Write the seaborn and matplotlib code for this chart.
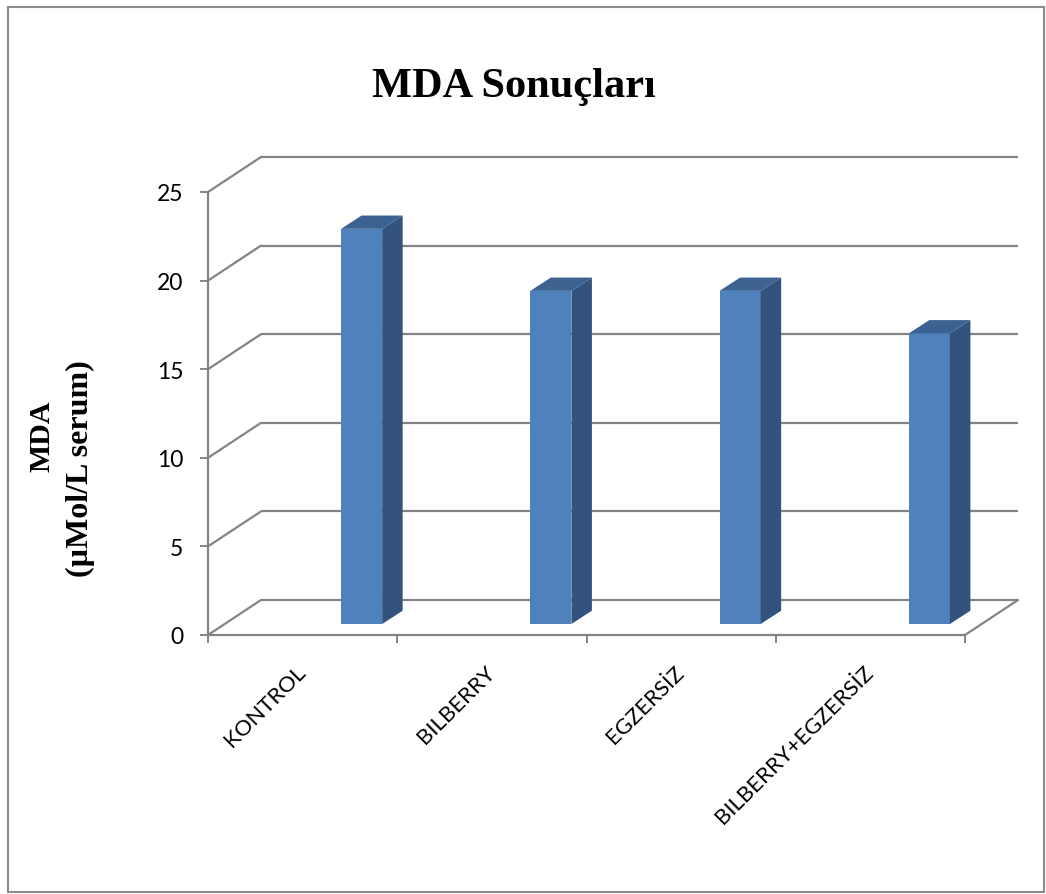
import matplotlib
matplotlib.use("Agg")
import matplotlib.pyplot as plt
from matplotlib.patches import Polygon, Rectangle
import seaborn as sns
import pandas as pd

# ---- data -------------------------------------------------------------
groups = ["KONTROL", "BILBERRY", "EGZERSİZ", "BILBERRY+EGZERSİZ"]
mda_values = [22.3, 18.8, 18.8, 16.4]
y_ticks = [0, 5, 10, 15, 20, 25]

title_text = "MDA Sonuçları"
ylabel_line1 = "MDA"
ylabel_line2 = "(µMol/L serum)"

# ---- style ------------------------------------------------------------
FRONT = "#4f81bd"
SIDE = "#33537d"
TOP = "#3c6291"
GRID = "#848484"

sns.set_theme(style="white")
plt.rcParams["font.family"] = ["Lato", "DejaVu Sans"]
plt.rcParams["text.color"] = "black"

W, H = 1046, 895
fig = plt.figure(figsize=(W / 100, H / 100), dpi=100)
fig.patch.set_facecolor("white")

# front plane of the 3-D box, in pixels
L, B, R, T = 208, 636, 965, 193
ax = fig.add_axes([L / W, 1 - B / H, (R - L) / W, (B - T) / H])
ax.set_facecolor("none")

df = pd.DataFrame({"group": groups, "mda": mda_values})
sns.barplot(data=df, x="group", y="mda", color=FRONT, saturation=1,
            width=0.217, linewidth=0, ax=ax, zorder=3)

n = len(groups)
ymax = y_ticks[-1]
ax.set_xlim(-0.5, n - 0.5)
ax.set_ylim(0, ymax)
ax.set_xlabel("")
ax.set_ylabel("")

# pixel -> data units
ux = n / (R - L)
uy = ymax / (B - T)

# oblique depth of the whole box and of each column
wall_dx, wall_dy = 53 * ux, 35 * uy
col_dx, col_dy = 59 * ux, 11 * uy      # where the column front sits
deep_dx, deep_dy = 20.5 * ux, 13.3 * uy  # column thickness

# back wall gridlines and left wall diagonals
for v in y_ticks:
    ax.plot([-0.5 + wall_dx, n - 0.5 + wall_dx], [v + wall_dy, v + wall_dy],
            color=GRID, lw=1.6, clip_on=False, zorder=1,
            solid_capstyle="butt")
    ax.plot([-0.5, -0.5 + wall_dx], [v, v + wall_dy],
            color=GRID, lw=1.6, clip_on=False, zorder=1)
# right edge of the floor
ax.plot([n - 0.5, n - 0.5 + wall_dx], [0, wall_dy],
        color=GRID, lw=1.6, clip_on=False, zorder=1)

# turn flat bars into 3-D columns
bars = list(ax.patches)
for p in bars:
    x0 = p.get_x() + col_dx
    w = p.get_width()
    h = p.get_height()
    y0 = col_dy
    p.set_x(x0)
    p.set_y(y0)
    p.set_clip_on(False)
    x1 = x0 + w
    y1 = y0 + h
    side = Polygon([(x1, y0), (x1 + deep_dx, y0 + deep_dy),
                    (x1 + deep_dx, y1 + deep_dy), (x1, y1)],
                   closed=True, facecolor=SIDE, edgecolor="none",
                   zorder=3, clip_on=False)
    top = Polygon([(x0, y1), (x1, y1), (x1 + deep_dx, y1 + deep_dy),
                   (x0 + deep_dx, y1 + deep_dy)],
                  closed=True, facecolor=TOP, edgecolor="none",
                  zorder=3, clip_on=False)
    ax.add_patch(side)
    ax.add_patch(top)

# axes lines
for s in ("top", "right"):
    ax.spines[s].set_visible(False)
for s in ("left", "bottom"):
    ax.spines[s].set_color(GRID)
    ax.spines[s].set_linewidth(1.6)
    ax.spines[s].set_zorder(2)

ax.set_yticks(y_ticks)
ax.tick_params(axis="y", left=True, length=5.8, width=1.4, color=GRID,
               pad=12, labelsize=16.5, labelcolor="black")

ax.set_xticks([i - 0.5 for i in range(n + 1)])
ax.set_xticklabels([])
ax.set_xticks(range(n), labels=groups, minor=True)
ax.tick_params(axis="x", which="major", bottom=True, length=5.8, width=1.4,
               color=GRID)
ax.tick_params(axis="x", which="minor", bottom=True, length=0, pad=24,
               labelsize=16, labelcolor="black")
for lbl in ax.get_xticklabels(minor=True):
    lbl.set_rotation(45)
    lbl.set_ha("right")
    lbl.set_va("center")
    lbl.set_rotation_mode("anchor")

# titles
serif = ["Liberation Serif", "DejaVu Serif"]
fig.text(514 / W, 1 - 97 / H, title_text, ha="center", va="baseline",
         fontsize=30.5, fontweight="bold", family=serif, color="black")
fig.text(42 / W, 1 - 436 / H, ylabel_line1, rotation=90, ha="center",
         va="center", fontsize=21.5, fontweight="bold", family=serif,
         color="black")
fig.text(80 / W, 1 - 469 / H, ylabel_line2, rotation=90, ha="center",
         va="center", fontsize=23, fontweight="bold", family=serif,
         color="black")

# chart border
fig.add_artist(Rectangle((8 / W, 2 / H), (1044 - 8) / W, (893 - 8) / H,
                         transform=fig.transFigure, fill=False,
                         edgecolor="#8c8c8c", lw=1.5))

fig.savefig("out.png", dpi=100)
